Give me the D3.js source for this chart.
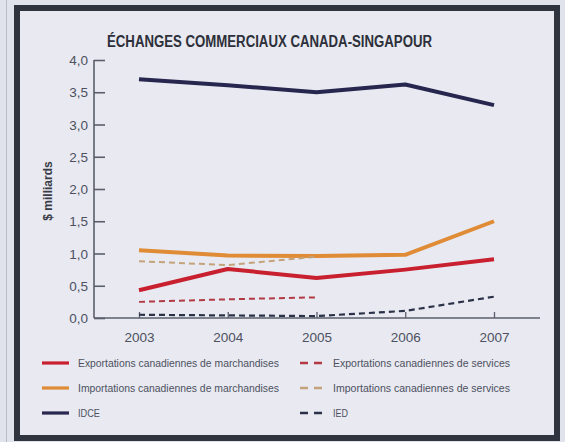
<!DOCTYPE html>
<html>
<head>
<meta charset="utf-8">
<script src="https://cdn.jsdelivr.net/npm/d3@7"></script>
<style>
  html, body { margin: 0; padding: 0; background: #e1e3ec; }
  svg { display: block; }
  text { font-family: "Liberation Sans Narrow", "Liberation Sans", Arial, sans-serif; }
</style>
</head>
<body>
<svg id="chart" width="565" height="442"></svg>
<script>
// Years on the x axis
const years = [2003, 2004, 2005, 2006, 2007];

// Values in billions of dollars (services series stop at 2005)
const exportsGoods    = [0.43, 0.76, 0.62, 0.75, 0.91];
const exportsServices = [0.25, 0.29, 0.32];
const importsGoods    = [1.05, 0.97, 0.96, 0.98, 1.50];
const importsServices = [0.88, 0.82, 0.95];
const idce            = [3.70, 3.61, 3.50, 3.62, 3.30];
const ied             = [0.05, 0.04, 0.03, 0.11, 0.33];

const yTicks = [0, 0.5, 1, 1.5, 2, 2.5, 3, 3.5, 4];

const seriesNames = [
  "Exportations canadiennes de marchandises",
  "Exportations canadiennes de services",
  "Importations canadiennes de marchandises",
  "Importations canadiennes de services",
  "IDCE",
  "IED"
];

const series = [
  { name: seriesNames[0], values: exportsGoods,    color: "#c8202f", width: 4,   dash: null },
  { name: seriesNames[1], values: exportsServices, color: "#b23a45", width: 2,   dash: "6,4" },
  { name: seriesNames[2], values: importsGoods,    color: "#e08b35", width: 4,   dash: null },
  { name: seriesNames[3], values: importsServices, color: "#c4a37a", width: 2,   dash: "6,4" },
  { name: seriesNames[4], values: idce,            color: "#27264f", width: 4,   dash: null },
  { name: seriesNames[5], values: ied,             color: "#2b3247", width: 2.2, dash: "6,4" }
];

const svg = d3.select("#chart");
const axisColor = "#5a5f6b";
const textColor = "#4d5160";

// Inner panel and heavy dark frame
svg.append("rect").attr("x", 17).attr("y", 8).attr("width", 540).attr("height", 430)
  .attr("fill", "#e8e9f1").attr("stroke", "#30343f").attr("stroke-width", 6);
// thin page rule left of the frame
svg.append("line").attr("x1", 6.5).attr("x2", 6.5).attr("y1", 0).attr("y2", 442)
  .attr("stroke", "#b9bcc8").attr("stroke-width", 1);

const x = d3.scalePoint().domain(years).range([139, 494]);
const y = d3.scaleLinear().domain([0, 4]).range([318, 60]);

// Title
svg.append("text")
  .attr("x", 107).attr("y", 47)
  .attr("textLength", 325).attr("lengthAdjust", "spacingAndGlyphs")
  .attr("font-size", 16).attr("font-weight", "bold").attr("fill", "#2d303a")
  .text("ÉCHANGES COMMERCIAUX CANADA-SINGAPOUR");

// Y axis (ticks point into the plot)
const yAxis = d3.axisRight(y).tickValues(yTicks).tickSize(11)
  .tickFormat(d => d3.format(".1f")(d).replace(".", ","));
const gy = svg.append("g").attr("transform", "translate(94,0)").call(yAxis);
gy.select(".domain").attr("stroke", axisColor).attr("stroke-width", 1.6)
  .attr("d", `M0,${y(4)}V${y(0)}`);
gy.selectAll(".tick line").attr("stroke", axisColor).attr("stroke-width", 1.6);
gy.selectAll(".tick text").attr("x", -6).attr("text-anchor", "end")
  .attr("font-size", 13.5).attr("fill", textColor).attr("dy", "0.35em");

// X axis along the zero line, small upward ticks
const xAxis = d3.axisBottom(x).tickSize(-6).tickPadding(14).tickFormat(d3.format("d"));
const gx = svg.append("g").attr("transform", `translate(0,${y(0)})`).call(xAxis);
gx.select(".domain").attr("stroke", axisColor).attr("stroke-width", 1.6)
  .attr("d", "M94,0H540");
gx.selectAll(".tick line").attr("stroke", axisColor).attr("stroke-width", 1.3);
gx.selectAll(".tick text").attr("font-size", 13.5).attr("fill", textColor);

// Y axis title
svg.append("text")
  .attr("transform", "translate(52,191) rotate(-90)")
  .attr("text-anchor", "middle").attr("font-size", 12).attr("font-weight", "bold")
  .attr("fill", "#3a3d48")
  .text("$ milliards");

// Series lines
const line = d3.line().x((d, i) => x(years[i])).y(d => y(d));
series.forEach(s => {
  svg.append("path")
    .datum(s.values)
    .attr("d", line)
    .attr("fill", "none")
    .attr("stroke", s.color)
    .attr("stroke-width", s.width)
    .attr("stroke-linejoin", "round")
    .attr("stroke-dasharray", s.dash);
});

// Legend: two columns, three rows
const legendRows = [363, 388, 413];
const legendCols = [{ sx: 42, tx: 78 }, { sx: 300, tx: 333 }];
const legendWidths = [201, 177, 201, 177, 22, 15];
series.forEach((s, i) => {
  const col = legendCols[i % 2];
  const row = legendRows[Math.floor(i / 2)];
  const sw = svg.append("line")
    .attr("x1", col.sx).attr("x2", i % 2 === 0 ? col.sx + 27 : col.sx + 22)
    .attr("y1", row).attr("y2", row)
    .attr("stroke", s.color)
    .attr("stroke-width", s.dash ? 2.4 : 3.2);
  if (s.dash) sw.attr("stroke-dasharray", "8,6");
  svg.append("text")
    .attr("x", col.tx).attr("y", row).attr("dy", "0.35em")
    .attr("font-size", 11).attr("fill", textColor)
    .attr("textLength", legendWidths[i]).attr("lengthAdjust", "spacingAndGlyphs")
    .text(s.name);
});
</script>
</body>
</html>
